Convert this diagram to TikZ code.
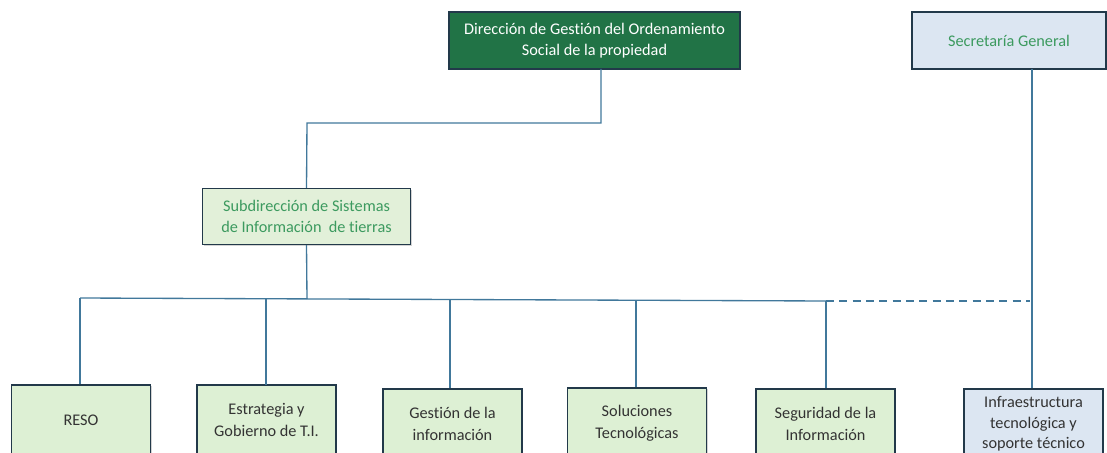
\documentclass[tikz,border=0pt]{standalone}
\usepackage{fontspec}
\setmainfont{Carlito}[Ligatures={NoCommon}]
\usetikzlibrary{shadows}
\definecolor{topgreen}{HTML}{217346}
\definecolor{lightgreen}{HTML}{DDF0D4}
\definecolor{subgreen}{HTML}{E2F0D9}
\definecolor{lightblue}{HTML}{DCE6F2}
\definecolor{textgreen}{HTML}{3C9A5F}
\definecolor{linecol}{HTML}{41789B}
\definecolor{bordercol}{HTML}{22394A}
\definecolor{darktext}{HTML}{333333}
\tikzset{
  box/.style={draw=bordercol, line width=1.1pt, align=center, inner sep=2pt,
    font=\fontsize{12.2}{16.2}\selectfont,
    drop shadow={shadow xshift=1pt, shadow yshift=-1pt, opacity=0.35}},
  unit/.style={box, fill=lightgreen, text=darktext, minimum width=104pt, minimum height=52.5pt},
  conn/.style={draw=linecol, line width=1pt},
}
\begin{document}
\begin{tikzpicture}[x=0.75pt,y=-0.75pt]
\useasboundingbox (0,0) rectangle (1107,453);
\clip (0,0) rectangle (1107,453);
\node[box, fill=topgreen, text=white, minimum width=218.25pt, minimum height=42.75pt, font=\fontsize{12.2}{15.6}\selectfont] (dir) at (594.5,40.5) {Dirección de Gestión del Ordenamiento\\Social de la propiedad};
\node[box, fill=lightblue, text=textgreen, minimum width=145.5pt, minimum height=42.75pt] (sec) at (1009,40.5) {Secretaría General};
\node[box, fill=subgreen, text=textgreen, minimum width=156pt, minimum height=42pt] (sub) at (306.5,216.5) {Subdirección de Sistemas\\de Información\ \ de tierras};
\node[unit] (reso) at (81,420) {RESO};
\node[unit] (estr) at (266.5,420) {Estrategia y\\Gobierno de T.I.};
\node[unit] (gest) at (452.5,424) {Gestión de la\\información};
\node[unit] (sol) at (637,423) {Soluciones\\Tecnológicas};
\node[unit] (seg) at (825.5,424) {Seguridad de la\\Información};
\node[unit, fill=lightblue, font=\fontsize{12.2}{15.5}\selectfont] (inf) at (1033.5,424) {Infraestructura\\tecnológica y\\soporte técnico};
% connectors
\coordinate (d2) at (307,123);
\draw[conn] (601,69) |- (d2) -- (sub.north);
\coordinate (bL) at (80,298);
\coordinate (bR) at (826,301);
\coordinate (bm) at (307,299);
\draw[conn] (sub.south) -- (bm);
\draw[conn] (bL) -- (bR);
\draw[conn] (bL) -- (reso.north -| bL);
\draw[conn] (266,299) -- (266,385);
\draw[conn] (450,300) -- (gest.north -| 450,0);
\draw[conn] (636,300) -- (sol.north -| 636,0);
\draw[conn] (bR) -- (seg.north -| bR);
\draw[conn] (1032,69) -- (inf.north -| 1032,0);
\draw[conn, dashed, dash pattern=on 6pt off 4pt] (bR) -- (1030,301);
\end{tikzpicture}
\end{document}
